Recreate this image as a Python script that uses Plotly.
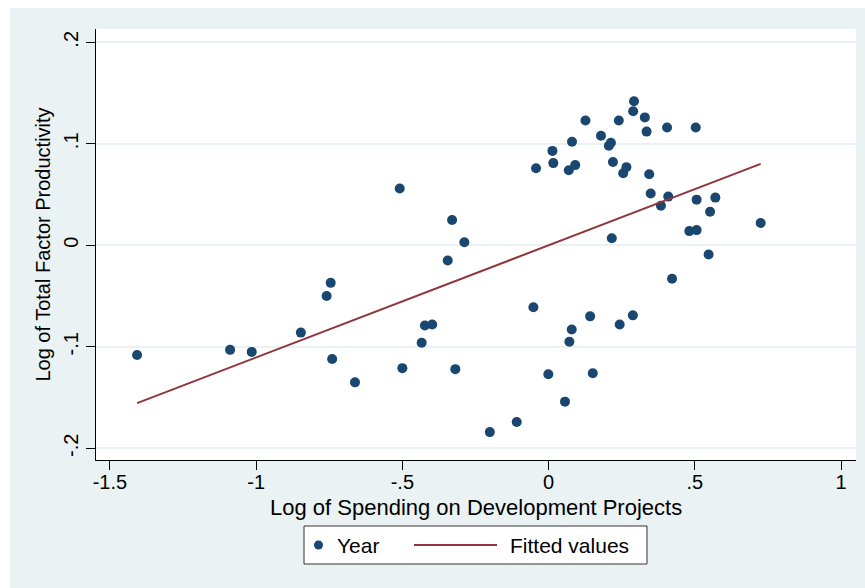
import plotly.graph_objects as go

# Log of spending on development projects (x) and log of TFP (y)
spending = [
    -1.407, -1.089, -1.015, -0.847, -0.759, -0.745, -0.740, -0.662, -0.509, -0.500,
    -0.434, -0.423, -0.398, -0.345, -0.330, -0.319, -0.288, -0.201, -0.109, -0.052,
    -0.043, -0.001, 0.013, 0.016, 0.056, 0.069, 0.071, 0.079, 0.080, 0.091,
    0.126, 0.142, 0.151, 0.179, 0.206, 0.213, 0.216, 0.220, 0.240, 0.243,
    0.255, 0.266, 0.288, 0.289, 0.292, 0.329, 0.335, 0.344, 0.349, 0.384,
    0.405, 0.409, 0.422, 0.481, 0.503, 0.506, 0.506, 0.547, 0.552, 0.570,
    0.725,
]
tfp = [
    -0.108, -0.103, -0.105, -0.086, -0.050, -0.037, -0.112, -0.135, 0.056, -0.121,
    -0.096, -0.079, -0.078, -0.015, 0.025, -0.122, 0.003, -0.184, -0.174, -0.061,
    0.076, -0.127, 0.093, 0.081, -0.154, 0.074, -0.095, -0.083, 0.102, 0.079,
    0.123, -0.070, -0.126, 0.108, 0.098, 0.101, 0.007, 0.082, 0.123, -0.078,
    0.071, 0.077, -0.069, 0.132, 0.142, 0.126, 0.112, 0.070, 0.051, 0.039,
    0.116, 0.048, -0.033, 0.014, 0.116, 0.045, 0.015, -0.009, 0.033, 0.047,
    0.022,
]

# Linear fit endpoints
fit_x = [-1.407, 0.725]
fit_y = [-0.1555, 0.0802]

x_ticks = [-1.5, -1, -0.5, 0, 0.5, 1]
x_ticktext = ["-1.5", "-1", "-.5", "0", ".5", "1"]
y_ticks = [-0.2, -0.1, 0, 0.1, 0.2]
y_ticktext = ["-.2", "-.1", "0", ".1", ".2"]

series_names = ["Year", "Fitted values"]
x_title = "Log of Spending on Development Projects"
y_title = "Log of Total Factor Productivity"

NAVY = "#1A476F"
MAROON = "#90353B"
BG = "#EAF2F3"
FONT = "Liberation Sans, Arial, sans-serif"

W, H = 865, 588
ML, MR, MT, MB = 96, 9, 29, 128
PW, PH = W - ML - MR, H - MT - MB


def px_x(p):
    return (p - ML) / PW


def px_y(p):
    return (H - MB - p) / PH


fig = go.Figure()
fig.add_trace(go.Scatter(
    x=spending, y=tfp, mode="markers", name=series_names[0],
    marker=dict(color=NAVY, size=10, line=dict(width=0)),
    showlegend=False,
))
fig.add_trace(go.Scatter(
    x=fit_x, y=fit_y, mode="lines", name=series_names[1],
    line=dict(color=MAROON, width=2),
    showlegend=False,
))

shapes = [
    # white outer strips
    dict(type="rect", xref="paper", yref="paper", layer="below",
         x0=px_x(-5), x1=px_x(10), y0=px_y(H + 5), y1=px_y(-5),
         fillcolor="white", line=dict(width=0)),
    dict(type="rect", xref="paper", yref="paper", layer="below",
         x0=px_x(-5), x1=px_x(W + 5), y0=px_y(8), y1=px_y(-5),
         fillcolor="white", line=dict(width=0)),
    # legend box
    dict(type="rect", xref="paper", yref="paper",
         x0=px_x(304), x1=px_x(647), y0=px_y(564), y1=px_y(526),
         fillcolor="white", line=dict(color="#333333", width=1)),
    dict(type="circle", xref="paper", yref="paper",
         x0=px_x(314), x1=px_x(323), y0=px_y(549.5), y1=px_y(540.5),
         fillcolor=NAVY, line=dict(width=0)),
    dict(type="line", xref="paper", yref="paper",
         x0=px_x(414), x1=px_x(497), y0=px_y(545), y1=px_y(545),
         line=dict(color=MAROON, width=2)),
]

annotations = [
    dict(text=series_names[0], xref="paper", yref="paper",
         x=px_x(335), y=px_y(545), xanchor="left", yanchor="middle",
         showarrow=False, font=dict(family=FONT, size=21, color="black")),
    dict(text=series_names[1], xref="paper", yref="paper",
         x=px_x(508), y=px_y(545), xanchor="left", yanchor="middle",
         showarrow=False, font=dict(family=FONT, size=21, color="black")),
    # x axis title
    dict(text=x_title, xref="paper", yref="paper",
         x=0.5, y=px_y(507), xanchor="center", yanchor="middle",
         showarrow=False, font=dict(family=FONT, size=22, color="black")),
]

fig.update_layout(
    width=W, height=H,
    margin=dict(l=ML, r=MR, t=MT, b=MB, pad=0),
    paper_bgcolor=BG, plot_bgcolor="white",
    font=dict(family=FONT, color="black"),
    shapes=shapes, annotations=annotations,
    showlegend=False,
)
fig.update_xaxes(
    range=[-1.5474, 1.0509], tickvals=x_ticks, ticktext=x_ticktext,
    showgrid=False, zeroline=False,
    showline=True, linecolor="black", linewidth=1,
    ticks="outside", ticklen=9, tickcolor="black", tickwidth=1,
    ticklabelstandoff=-5,
    tickfont=dict(family=FONT, size=20),
)
fig.update_yaxes(
    range=[-0.2115, 0.2131], tickvals=y_ticks, ticktext=y_ticktext,
    showgrid=True, gridcolor=BG, gridwidth=2, zeroline=False,
    showline=True, linecolor="black", linewidth=1,
    ticks="outside", ticklen=9, tickcolor="black", tickwidth=1,
    tickangle=-90,
    tickfont=dict(family=FONT, size=20),
    title=dict(text=y_title, font=dict(family=FONT, size=20), standoff=4),
)

fig.write_html("out.html")
